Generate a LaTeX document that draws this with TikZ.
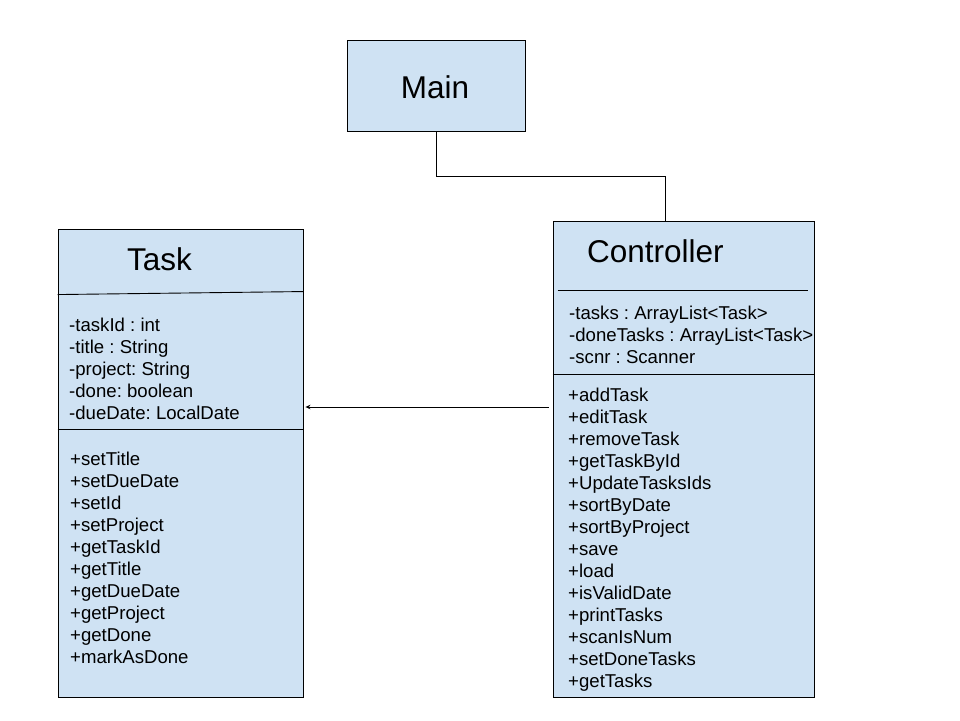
\documentclass[tikz,border=0pt]{standalone}
\usepackage{fontspec}
\setmainfont{Liberation Sans}
\usetikzlibrary{calc,arrows.meta}
\definecolor{boxblue}{HTML}{CFE2F3}
\frenchspacing
\begin{document}
\begin{tikzpicture}[x=1pt,y=-1pt,
  classbox/.style={draw=black, fill=boxblue, line width=0.9pt, inner sep=0pt},
  sepline/.style={draw=black, line width=0.9pt},
  conn/.style={draw=black, line width=0.9pt},
  item/.style={anchor=base west, inner sep=0pt, font=\fontsize{18.6}{22}\selectfont\frenchspacing},
  title/.style={anchor=base west, inner sep=0pt, font=\fontsize{31.5}{36}\selectfont}]
\useasboundingbox[fill=white] (0,0) rectangle (960,720);

% boxes
\node[classbox, minimum width=178pt, minimum height=91pt] (main) at (436,85.5) {};
\node[classbox, minimum width=245pt, minimum height=468pt] (task) at (180.5,463) {};
\node[classbox, minimum width=261pt, minimum height=476pt] (ctrl) at (683.5,459) {};

% titles
\node[anchor=base, inner sep=0pt, font=\fontsize{31.5}{36}\selectfont] (maint) at (435,98) {Main};
\node[title] (taskt) at (127,270) {Task};
\node[title] (ctrlt) at (587,262) {Controller};

% separators
\draw[sepline] ($(task.north west)+(0,66)$) -- ($(task.north east)+(0,63)$);
\draw[sepline] ($(task.north west)+(0,201)$) -- ($(task.north east)+(0,201)$);
\draw[sepline] ($(ctrl.north west)+(5,70)$) -- ($(ctrl.north east)+(-6,70)$);
\draw[sepline] ($(ctrl.north west)+(0,154)$) -- ($(ctrl.north east)+(0,154)$);

% Task attributes
\foreach \t [count=\i] in {-taskId : int, -title : String, -project: String, -done: boolean, -dueDate: LocalDate}
  \node[item] (ta\i) at (69,{303+22*\i+6.5}) {\t};
% Task methods
\foreach \t [count=\i] in {+setTitle, +setDueDate, +setId, +setProject, +getTaskId, +getTitle, +getDueDate, +getProject, +getDone, +markAsDone}
  \node[item] (tm\i) at (70,{437+22*\i+6.5}) {\t};
% Controller attributes
\foreach \t [count=\i] in {-tasks : ArrayList<Task>, -doneTasks : ArrayList<Task>, -scnr : Scanner}
  \node[item] (ca\i) at (569,{291+22*\i+6.5}) {\t};
% Controller methods
\foreach \t [count=\i] in {+addTask, +editTask, +removeTask, +getTaskById, +UpdateTasksIds, +sortByDate, +sortByProject, +save, +load, +isValidDate, +printTasks, +scanIsNum, +setDoneTasks, +getTasks}
  \node[item] (cm\i) at (568,{373+22*\i+6.5}) {\t};

% connectors
\coordinate (ctop) at ($(ctrl.north west)+(113,0)$);
\draw[conn] (main.south) -- ++(0,45) -| (ctop);
\coordinate (astart) at ($(ctrl.west)+(-4,-52)$);
\draw[conn, -{Stealth[length=5pt,width=4.5pt]}] (astart) -- ($(task.east)+(2,-56)$);
\end{tikzpicture}
\end{document}
